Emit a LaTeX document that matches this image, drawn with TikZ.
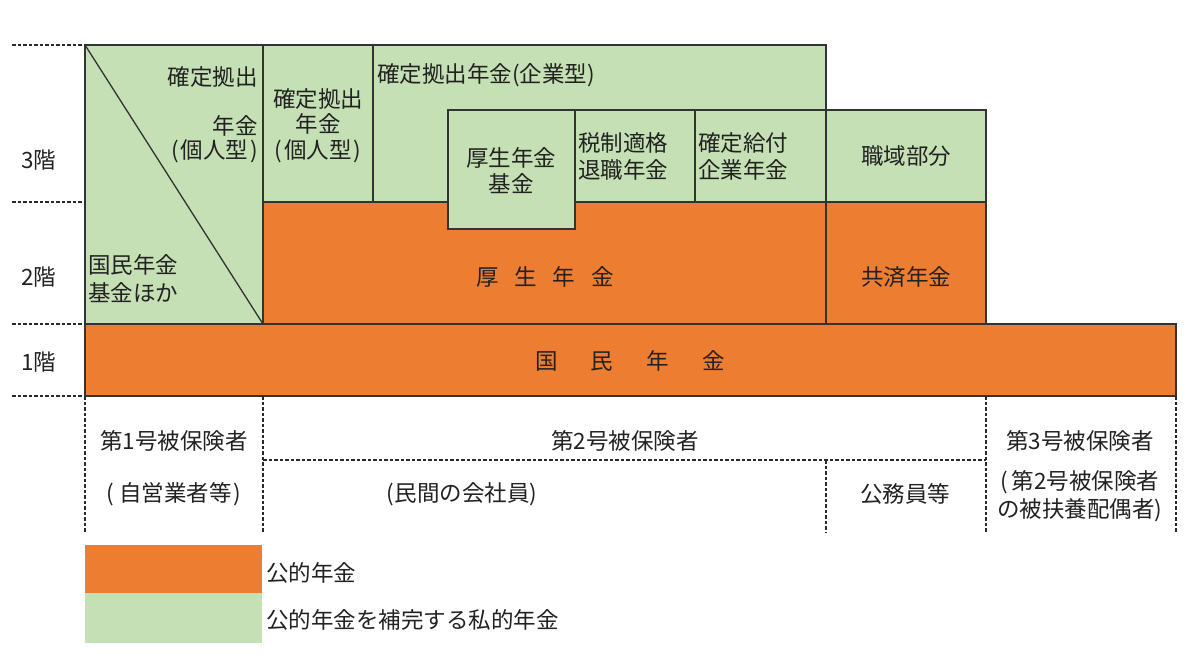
\documentclass[tikz,border=0pt]{standalone}
\usepackage{fontspec}
\setmainfont{Noto Sans CJK JP}
\definecolor{ofill}{HTML}{ED7D31}
\definecolor{gfill}{HTML}{C5E0B4}
\definecolor{lc}{HTML}{333333}
\definecolor{tc}{HTML}{222222}
\definecolor{dc}{HTML}{2A2A2A}
\tikzset{
  grn/.style={draw=lc, fill=gfill, line width=1.3pt, anchor=north west, inner sep=0pt, outer sep=0pt},
  org/.style={draw=lc, fill=ofill, line width=1.3pt, anchor=north west, inner sep=0pt, outer sep=0pt},
  legbox/.style={fill=#1, draw=none, anchor=north west, inner sep=0pt, outer sep=0pt},
  lbl/.style={inner sep=0pt, text=tc, font=\fontsize{22.5}{27}\selectfont},
  dsh/.style={draw=dc, line width=1.2pt, dash pattern=on 3.5pt off 2pt},
}
\begin{document}
\begin{tikzpicture}[x=1pt,y=-1pt]
\useasboundingbox[fill=white] (0,0) rectangle (1200,671);
% green boxes
\node[grn, minimum width=178pt, minimum height=279pt] (L) at (85,45) {};
\node[grn, minimum width=110pt, minimum height=157pt] (DCi) at (263,45) {};
\node[grn, minimum width=453pt, minimum height=157pt] (DCc) at (373,45) {};
\node[grn, minimum width=120pt, minimum height=92pt] (TQ) at (575,110) {};
\node[grn, minimum width=131pt, minimum height=92pt] (DB) at (695,110) {};
\node[grn, minimum width=160pt, minimum height=92pt] (SY) at (826,110) {};
% orange boxes
\node[org, minimum width=563pt, minimum height=122pt] (KN) at (263,202) {};
\node[org, minimum width=160pt, minimum height=122pt] (KS) at (826,202) {};
\node[grn, minimum width=127pt, minimum height=119pt] (KF) at (448,110) {};
\node[org, minimum width=1091pt, minimum height=72pt] (KM) at (85,324) {};
\draw[draw=lc, line width=1.3pt] (L.north west) -- (L.south east);
% legend
\node[legbox=ofill, minimum width=177pt, minimum height=48pt] (LO) at (85,545) {};
\node[legbox=gfill, minimum width=177pt, minimum height=50pt] (LG) at (85,593) {};
\node[lbl, anchor=west] (tLO) at (266,573) {公的年金};
\node[lbl, anchor=west] (tLG) at (266,620) {公的年金を補完する私的年金};
% left dashed level lines
\coordinate (d3) at (12,45);
\coordinate (d2) at (12,202);
\coordinate (d1) at (12,324);
\coordinate (d0) at (12,396);
\coordinate (e3) at (85,45);
\coordinate (e2) at (85,202);
\coordinate (e1) at (85,324);
\coordinate (e0) at (85,396);
\draw[dsh] (d3) -- (e3);
\draw[dsh] (d2) -- (e2);
\draw[dsh] (d1) -- (e1);
\draw[dsh] (d0) -- (e0);
\node[lbl] (f3) at (39,160) {3階};
\node[lbl] (f2) at (39,277) {2階};
\node[lbl] (f1) at (39,362) {1階};
% bottom dashed grid
\coordinate (b1) at (85,532);
\coordinate (t2) at (263,396);
\coordinate (b2) at (263,532);
\coordinate (m2) at (263,460);
\coordinate (t3) at (826,460);
\coordinate (b3) at (826,532);
\coordinate (t4) at (986,396);
\coordinate (m4) at (986,460);
\coordinate (b4) at (986,532);
\coordinate (t5) at (1176,396);
\coordinate (b5) at (1176,532);
\draw[dsh] (e0) -- (b1);
\draw[dsh] (t2) -- (b2);
\draw[dsh] (t3) -- (b3);
\draw[dsh] (t4) -- (b4);
\draw[dsh] (t5) -- (b5);
\draw[dsh] (m2) -- (m4);
% texts in boxes
\node[lbl, anchor=east] (a1) at (258,77) {確定拠出};
\node[lbl, anchor=east] (a2) at (258,126) {年金};
\node[lbl, anchor=east] (a3) at (258,151) {(\hspace{2pt}個人型\hspace{2pt})};
\node[lbl, anchor=west] (a4) at (88,265) {国民年金};
\node[lbl, anchor=west] (a5) at (88,293) {基金ほか};
\node[lbl] (b1t) at (318,99) {確定拠出};
\node[lbl] (b2t) at (318,124) {年金};
\node[lbl] (b3t) at (318,151) {(\hspace{2pt}個人型\hspace{2pt})};
\node[lbl, anchor=west] (c1) at (377,75) {確定拠出年金(企業型)};
\node[lbl] (kf1) at (511,158) {厚生年金};
\node[lbl] (kf2) at (511,184) {基金};
\node[lbl, anchor=west] (tq1) at (578,143) {税制適格};
\node[lbl, anchor=west] (tq2) at (578,170) {退職年金};
\node[lbl, anchor=west] (db1) at (698,143) {確定給付};
\node[lbl, anchor=west] (db2) at (698,170) {企業年金};
\node[lbl] (sy1) at (SY.center) {職域部分};
\node[lbl] (kn1) at (545,277) {厚\hspace{16pt}生\hspace{16pt}年\hspace{16pt}金};
\node[lbl] (ks1) at (906,277) {共済年金};
\node[lbl] (km1) at (630,361) {国\hspace{33pt}民\hspace{33pt}年\hspace{33pt}金};
% bottom labels
\node[lbl] (g1) at (174,441) {第1号被保険者};
\node[lbl] (g1b) at (174,494) {(\hspace{5pt}自営業者等\hspace{2pt})};
\node[lbl] (g2) at (625,441) {第2号被保険者};
\node[lbl] (g2b) at (462,494) {(民間の会社員)};
\node[lbl] (g2c) at (905,494) {公務員等};
\node[lbl] (g3) at (1080,441) {第3号被保険者};
\node[lbl] (g3b) at (1080,482) {(\hspace{3pt}第2号被保険者};
\node[lbl] (g3c) at (1080,510) {の被扶養配偶者)};
\end{tikzpicture}
\end{document}
